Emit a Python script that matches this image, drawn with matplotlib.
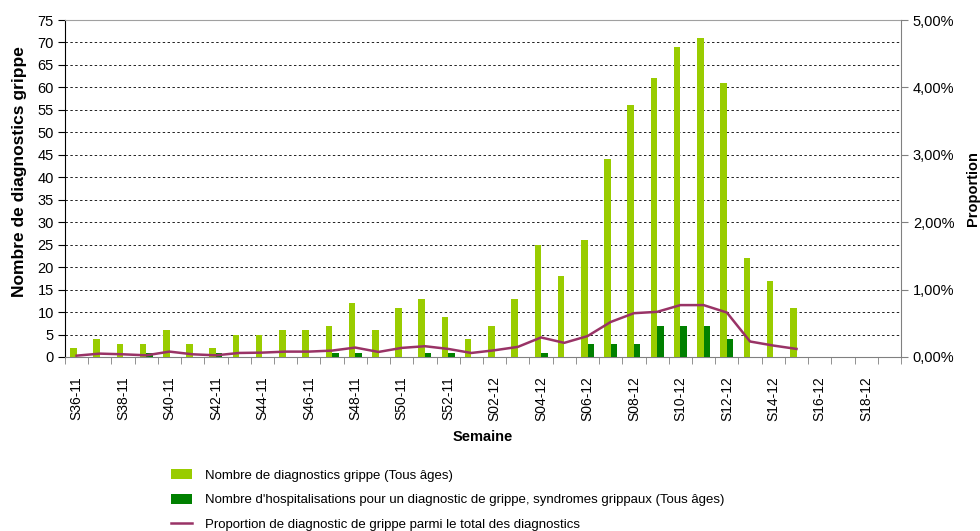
import matplotlib
matplotlib.use("Agg")
import matplotlib.pyplot as plt
import numpy as np
from matplotlib.ticker import FuncFormatter, FixedLocator

plt.rcParams['font.family'] = ['Liberation Sans', 'DejaVu Sans']

# semaines S36-11 .. S19-12
semaines = ['S%02d-11' % w for w in range(36, 53)] + ['S%02d-12' % w for w in range(1, 20)]

# nombre de diagnostics grippe (tous âges)
diagnostics = [2, 4, 3, 3, 6, 3, 2, 5, 5, 6, 6, 7, 12, 6, 11, 13, 9,
               4, 7, 13, 25, 18, 26, 44, 56, 62, 69, 71, 61, 22, 17, 11]
# hospitalisations pour grippe / syndromes grippaux
hospitalisations = [0, 0, 0, 1, 0, 0, 1, 0, 0, 0, 0, 1, 1, 0, 0, 1, 1,
                    0, 0, 0, 1, 0, 3, 3, 3, 7, 7, 7, 4, 0, 0, 0]
# proportion de diagnostic de grippe (%)
proportion = [0.02, 0.05, 0.04, 0.025, 0.08, 0.04, 0.025, 0.06, 0.065, 0.08, 0.08, 0.095,
              0.14, 0.075, 0.135, 0.16, 0.12, 0.06, 0.10, 0.15, 0.29, 0.21, 0.31, 0.52,
              0.65, 0.67, 0.77, 0.77, 0.66, 0.23, 0.17, 0.12]

LIGHT = '#99CC00'
DARK = '#008000'
LINE = '#993366'

fig = plt.figure(figsize=(9.8, 5.31), dpi=100)
ax = fig.add_axes([65 / 980, 1 - 357 / 531, 836 / 980, 337 / 531])

n = len(semaines)
x = np.arange(n)
xd = np.arange(len(diagnostics))
w = 0.28
b1 = ax.bar(xd - w / 2, diagnostics, width=w, color=LIGHT, zorder=3,
            label='Nombre de diagnostics grippe (Tous âges)')
b2 = ax.bar(xd + w / 2, hospitalisations, width=w, color=DARK, zorder=3,
            label="Nombre d'hospitalisations pour un diagnostic de grippe, syndromes grippaux (Tous âges)")

ax.set_xlim(-0.5, n - 0.5)
ax.set_ylim(0, 75)
ax.set_yticks(np.arange(0, 76, 5))
for yv in range(5, 75, 5):
    ax.axhline(yv, color='#202020', lw=0.7, ls=(0, (2.5, 2.5)), zorder=1)

ax.xaxis.set_major_locator(FixedLocator(x[::2]))
ax.set_xticklabels(semaines[::2], rotation=90)
ax.xaxis.set_minor_locator(FixedLocator(np.arange(-0.5, n, 1.0)))
ax.tick_params(axis='x', which='major', length=0, pad=14, labelsize=10)
ax.tick_params(axis='x', which='minor', length=5, direction='out', color='#808080')
ax.tick_params(axis='y', length=5, direction='out', labelsize=10.5, pad=3)

ax.spines['top'].set_color('#A0A0A0')
ax.spines['right'].set_visible(False)
ax.spines['bottom'].set_color('#808080')
ax.spines['left'].set_color('black')

ax.set_ylabel('Nombre de diagnostics grippe', fontsize=12.5, fontweight='bold')
ax.yaxis.set_label_coords(-0.046, 0.55)
ax.set_xlabel('Semaine', fontsize=10.5, fontweight='bold', labelpad=6)

ax2 = ax.twinx()
ln, = ax2.plot(xd, proportion, color=LINE, lw=1.8, zorder=4,
               label='Proportion de diagnostic de grippe parmi le total des diagnostics')
ax2.set_ylim(0, 5)
ax2.set_yticks(np.arange(0, 5.01, 1))
ax2.yaxis.set_major_formatter(FuncFormatter(lambda v, p: ('%.2f%%' % v).replace('.', ',')))
ax2.tick_params(axis='y', length=5, direction='out', labelsize=10.5, color='#808080')
ax2.spines['right'].set_color('#808080')
ax2.spines['top'].set_visible(False)
ax2.spines['left'].set_visible(False)
ax2.spines['bottom'].set_visible(False)
ax2.set_ylabel('Proportion', fontsize=10.5, fontweight='bold', labelpad=8)

fig.legend(handles=[b1, b2, ln], loc='upper left', bbox_to_anchor=(166 / 980, 1 - 464 / 531),
           frameon=False, fontsize=9.5, handlelength=1.6, handleheight=0.8,
           labelspacing=0.9, handletextpad=0.95, borderaxespad=0)

fig.savefig('out.png', dpi=100)
